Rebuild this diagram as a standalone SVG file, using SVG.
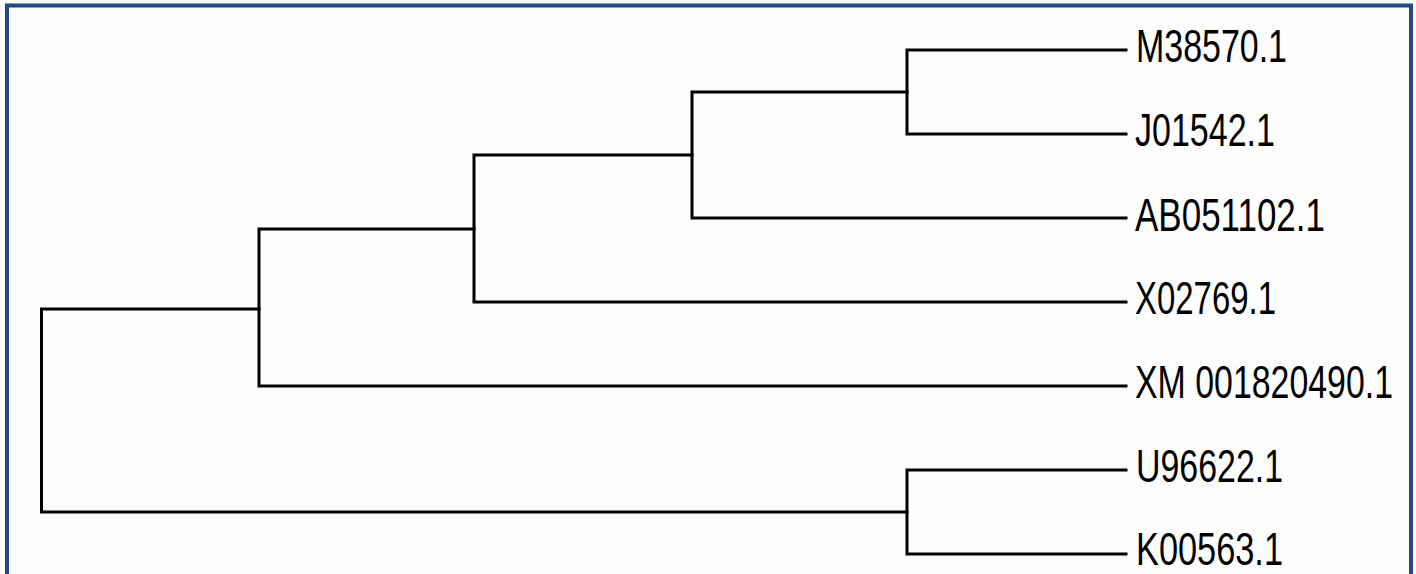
<svg xmlns="http://www.w3.org/2000/svg" width="1416" height="574" viewBox="0 0 1416 574">
<style>
.bg{fill:#FDFDFD}
.frame{fill:none;stroke:#1F4C7C}
.br{fill:none;stroke:#000;stroke-width:3;stroke-linecap:square;stroke-linejoin:miter}
.lbl{font-family:"Liberation Sans",Arial,sans-serif;font-size:47px;fill:#000}
</style>
<rect class="bg" x="0" y="0" width="1416" height="574"/>
<g id="frame">
<path class="frame" d="M7 580 V5.5 H1411 V580" stroke-width="4"/>
</g>
<g id="connectors">
<path class="br" d="M907 50 H1126 M907 50 V134 M907 134 H1126"/>
<path class="br" d="M692 92 H907 M692 92 V218 M692 218 H1126"/>
<path class="br" d="M474 155 H692 M474 155 V302 M474 302 H1126"/>
<path class="br" d="M259 229 H474 M259 229 V386 M259 386 H1126"/>
<path class="br" d="M907 470 H1126 M907 470 V554 M907 554 H1126"/>
<path class="br" d="M41.5 309 H259 M41.5 309 V512 M41.5 512 H907"/>
</g>
<g id="leaf-M38570"><text class="lbl" x="1136" y="62" textLength="151" lengthAdjust="spacingAndGlyphs">M38570.1</text></g>
<g id="leaf-J01542"><text class="lbl" x="1135" y="146" textLength="140" lengthAdjust="spacingAndGlyphs">J01542.1</text></g>
<g id="leaf-AB051102"><text class="lbl" x="1135" y="231" textLength="190" lengthAdjust="spacingAndGlyphs">AB051102.1</text></g>
<g id="leaf-X02769"><text class="lbl" x="1135" y="314" textLength="141" lengthAdjust="spacingAndGlyphs">X02769.1</text></g>
<g id="leaf-XM001820490"><text class="lbl" x="1135" y="398" textLength="258" lengthAdjust="spacingAndGlyphs">XM 001820490.1</text></g>
<g id="leaf-U96622"><text class="lbl" x="1136" y="482" textLength="147" lengthAdjust="spacingAndGlyphs">U96622.1</text></g>
<g id="leaf-K00563"><text class="lbl" x="1136" y="565" textLength="147" lengthAdjust="spacingAndGlyphs">K00563.1</text></g>
</svg>
